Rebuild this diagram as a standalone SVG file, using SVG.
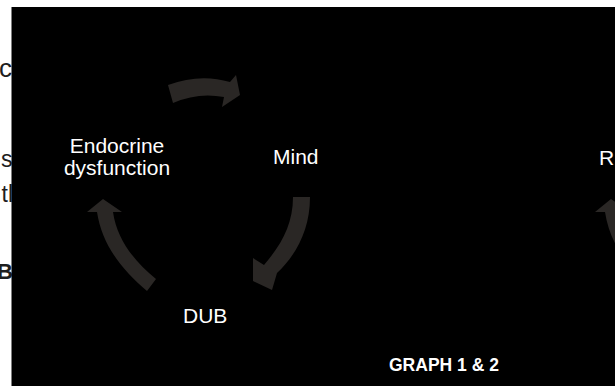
<svg xmlns="http://www.w3.org/2000/svg" width="615" height="386" viewBox="0 0 615 386">
<style>
.side{font-family:"Liberation Sans",Arial,sans-serif;fill:#1e1e1e}
.lbl{font-family:"Liberation Sans",Arial,sans-serif;font-size:21px;fill:#ffffff}
.arr{fill:#2a2725;stroke:none}
</style>
<rect x="0" y="0" width="615" height="386" fill="#ffffff"/>
<g id="side-text">
<text class="side" x="12" y="77" font-size="26" text-anchor="end">c</text>
<text class="side" x="12.5" y="167" font-size="23" text-anchor="end">s</text>
<text class="side" x="13" y="202" font-size="23" text-anchor="end">tl</text>
<text class="side" x="13" y="279" font-size="22" font-weight="bold" text-anchor="end">B</text>
</g>
<rect x="11.5" y="7" width="604" height="379" fill="#000000"/>
<g id="connectors">
<path class="arr" d="M168,85 Q200,73 230,82 L236,75 L240,95 L222,107 L224,97 Q198,92 173,103 Z"/>
<path class="arr" d="M293,197 L310,197 C310,230 296,255 277,273 L272,290 L253,281 L253,258 L264,265 C281,245 293,225 293,197 Z"/>
<path class="arr" d="M103,199 L122,212 L113,212 C117,240 135,262 156,279 L147,291 C122,270 102,245 97,212 L87,212 Z"/>
<path class="arr" d="M611,199 L630,212 L621,212 C625,240 643,262 664,279 L655,291 C630,270 610,245 605,212 L595,212 Z"/>
</g>
<g id="node-endocrine">
<text class="lbl" x="117" y="153" text-anchor="middle">Endocrine</text>
<text class="lbl" x="117" y="175" text-anchor="middle">dysfunction</text>
</g>
<g id="node-mind">
<text class="lbl" x="273" y="164">Mind</text>
</g>
<g id="node-dub">
<text class="lbl" x="183" y="323">DUB</text>
</g>
<g id="node-r">
<text class="lbl" x="599" y="165">R</text>
</g>
<g id="caption">
<text x="389" y="371" font-family="'Liberation Sans',Arial,sans-serif" font-size="17.5" font-weight="bold" fill="#ffffff">GRAPH 1 &amp; 2</text>
</g>
</svg>
